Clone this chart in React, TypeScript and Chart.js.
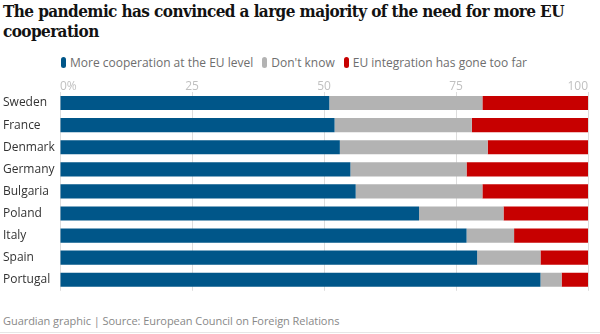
import React, { useEffect, useRef } from "react";
import { Chart, registerables } from "chart.js";

Chart.register(...registerables);

const countries = ["Sweden", "France", "Denmark", "Germany", "Bulgaria", "Poland", "Italy", "Spain", "Portugal"];
const moreCooperation = [51, 52, 53, 55, 56, 68, 77, 79, 91];
const dontKnow = [29, 26, 28, 22, 24, 16, 9, 12, 4];
const goneTooFar = [20, 22, 19, 23, 20, 16, 14, 9, 5];
const seriesNames = ["More cooperation at the EU level", "Don't know", "EU integration has gone too far"];
const seriesColors = ["#005689", "#b3b3b3", "#c70000"];
const xTicks = [0, 25, 50, 75, 100];
const titleLines = ["The pandemic has convinced a large majority of the need for more EU", "cooperation"];

const SANS = "'Open Sans', 'Noto Sans', sans-serif";

export default function App() {
  const ref = useRef<HTMLCanvasElement | null>(null);

  useEffect(() => {
    if (!ref.current) return;
    const chart = new Chart(ref.current, {
      type: "bar",
      data: {
        labels: countries,
        datasets: [moreCooperation, dontKnow, goneTooFar].map((d, i) => ({
          label: seriesNames[i],
          data: d,
          backgroundColor: seriesColors[i],
          borderWidth: 0,
          barPercentage: 0.64,
          categoryPercentage: 1,
        })),
      },
      options: {
        indexAxis: "y",
        animation: false,
        responsive: false,
        maintainAspectRatio: false,
        layout: { padding: { left: 3, right: 12, top: 0, bottom: 3 } },
        plugins: { legend: { display: false }, tooltip: { enabled: false } },
        scales: {
          x: {
            position: "top",
            stacked: true,
            min: 0,
            max: 100,
            z: 1,
            afterBuildTicks: (s: any) => {
              s.ticks = xTicks.map((v) => ({ value: v }));
            },
            afterFit: (s: any) => {
              s.height = 18;
            },
            grid: { color: "#dddddd", drawTicks: false, lineWidth: 1 },
            border: { display: false },
            ticks: {
              align: "inner",
              padding: -2,
              color: "#c0c0c0",
              font: { family: SANS, size: 12 },
              callback: (v: any) => (v === 0 ? "0%" : String(v)),
            },
          },
          y: {
            stacked: true,
            afterFit: (s: any) => {
              s.width = 57;
            },
            grid: { display: false },
            border: { display: false },
            ticks: {
              crossAlign: "far",
              padding: 0,
              color: "#333333",
              font: { family: SANS, size: 12 },
            },
          },
        },
      },
    });
    return () => chart.destroy();
  }, []);

  return (
    <div style={{ position: "relative", width: 600, height: 334, overflow: "hidden", background: "#fff" }}>
      <style>{`body{margin:0}`}</style>
      <div
        style={{
          position: "absolute",
          left: 3,
          top: 1,
          fontFamily: "'DejaVu Serif Condensed', 'DejaVu Serif', serif",
          fontStretch: "condensed",
          fontWeight: 700,
          fontSize: 17,
          letterSpacing: "-0.6px",
          lineHeight: "20px",
          color: "#121212",
          whiteSpace: "nowrap",
        }}
      >
        {titleLines.map((t) => (
          <div key={t}>{t}</div>
        ))}
      </div>
      <div
        style={{
          position: "absolute",
          left: 61,
          top: 54,
          display: "flex",
          alignItems: "center",
          fontFamily: SANS,
          fontSize: 12,
          color: "#6e6e6e",
          whiteSpace: "nowrap",
        }}
      >
        {seriesNames.map((n, i) => (
          <span key={n} style={{ display: "flex", alignItems: "center", marginRight: 9 }}>
            <span
              style={{
                display: "inline-block",
                width: 5,
                height: 11,
                borderRadius: 3,
                background: seriesColors[i],
                marginRight: 4,
              }}
            />
            {n}
          </span>
        ))}
      </div>
      <canvas ref={ref} width={600} height={224} style={{ position: "absolute", left: 0, top: 74, width: 600, height: 224 }} />
      <div
        style={{
          position: "absolute",
          left: 3,
          top: 313,
          fontFamily: SANS,
          fontSize: 11,
          letterSpacing: "-0.05px",
          color: "#888888",
          whiteSpace: "nowrap",
        }}
      >
        Guardian graphic | Source: European Council on Foreign Relations
      </div>
      <div style={{ position: "absolute", left: 0, right: 0, top: 332, height: 1, background: "#e6e6e6" }} />
    </div>
  );
}
